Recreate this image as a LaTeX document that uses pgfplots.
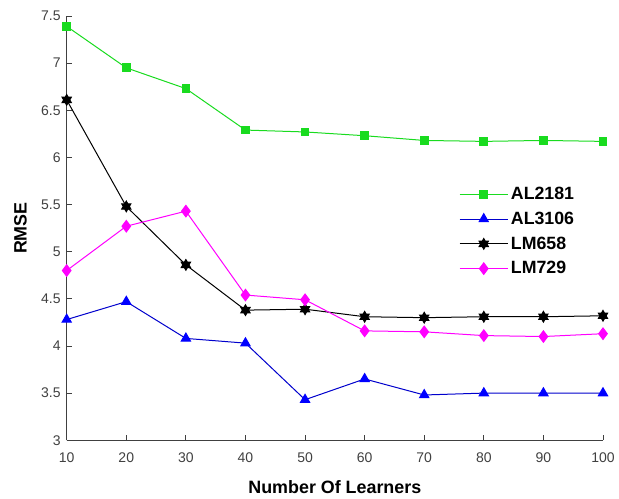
\documentclass[border=0pt]{standalone}
\usepackage{fontspec}
\setmainfont{Liberation Sans}
\usepackage{pgfplots}
\pgfplotsset{compat=1.18}
\usetikzlibrary{calc}
\definecolor{mgreen}{rgb}{0.1,0.86,0.12}
\definecolor{mmag}{rgb}{1,0,1}
\definecolor{axgray}{rgb}{0.25,0.25,0.25}
\pgfdeclareplotmark{hexagram}{%
  \pgfpathmoveto{\pgfqpointpolar{90}{\pgfplotmarksize}}%
  \pgfpathlineto{\pgfqpointpolar{210}{\pgfplotmarksize}}%
  \pgfpathlineto{\pgfqpointpolar{330}{\pgfplotmarksize}}%
  \pgfpathclose
  \pgfpathmoveto{\pgfqpointpolar{270}{\pgfplotmarksize}}%
  \pgfpathlineto{\pgfqpointpolar{30}{\pgfplotmarksize}}%
  \pgfpathlineto{\pgfqpointpolar{150}{\pgfplotmarksize}}%
  \pgfpathclose
  \pgfusepathqfillstroke
}
\begin{document}
\begin{tikzpicture}
\begin{axis}[
  scale only axis,
  width=402pt, height=318pt,
  xmin=10, xmax=100, ymin=3, ymax=7.5,
  xtick={10,20,...,100},
  ytick={3,3.5,...,7.5},
  axis lines*=left,
  axis line style={axgray, line width=0.6pt},
  tick align=inside,
  tick style={axgray, line width=0.6pt},
  major tick length=4pt,
  /pgf/number format/assume math mode=true,
  ticklabel style={font=\fontsize{10.5}{12}\selectfont, text=axgray},
  xticklabel style={yshift=-5.5pt},
  yticklabel style={/pgf/number format/fixed, xshift=-1pt},
  xlabel={\bfseries Number Of Learners},
  ylabel={\bfseries RMSE},
  label style={font=\fontsize{13.4}{15}\selectfont},
  xlabel style={yshift=-7pt},
  ylabel style={yshift=4pt},
  clip=false,
  legend style={at={(0.724,0.61)}, anchor=north west, draw=none, fill=none,
    nodes={font=\fontsize{13.3}{15}\selectfont\bfseries, inner xsep=2pt}, row sep=3.8pt},
  legend cell align=left,
  legend image code/.code={%
    \draw[mark repeat=2,mark phase=2] plot coordinates {(0pt,0pt) (18pt,0pt) (36pt,0pt)};},
  every axis plot/.append style={line width=0.75pt},
]
\addplot[color=mgreen, mark=square*, mark size=2.9pt, mark options={fill=mgreen, draw=mgreen}] coordinates {
(10,7.39) (20,6.95) (30,6.73) (40,6.29) (50,6.27) (60,6.23) (70,6.18) (80,6.17) (90,6.18) (100,6.17)};
\addlegendentry{AL2181}
\addplot[color=blue!80!black, mark=triangle*, mark size=4pt, mark options={fill=blue, draw=blue}] coordinates {
(10,4.28) (20,4.47) (30,4.08) (40,4.03) (50,3.43) (60,3.65) (70,3.48) (80,3.50) (90,3.50) (100,3.50)};
\addlegendentry{AL3106}
\addplot[color=black, mark=hexagram, mark size=4pt, mark options={fill=black, draw=black}] coordinates {
(10,6.61) (20,5.48) (30,4.86) (40,4.38) (50,4.39) (60,4.31) (70,4.30) (80,4.31) (90,4.31) (100,4.32)};
\addlegendentry{LM658}
\addplot[color=mmag, mark=diamond*, mark size=4.3pt, mark options={fill=mmag, draw=mmag}] coordinates {
(10,4.80) (20,5.27) (30,5.43) (40,4.54) (50,4.49) (60,4.16) (70,4.15) (80,4.11) (90,4.10) (100,4.13)};
\addlegendentry{LM729}
\end{axis}
\pgfresetboundingbox
\path ($(current axis.south west)+(-50pt,-43.5pt)$) rectangle ($(current axis.north east)+(12pt,12pt)$);
\end{tikzpicture}
\end{document}
